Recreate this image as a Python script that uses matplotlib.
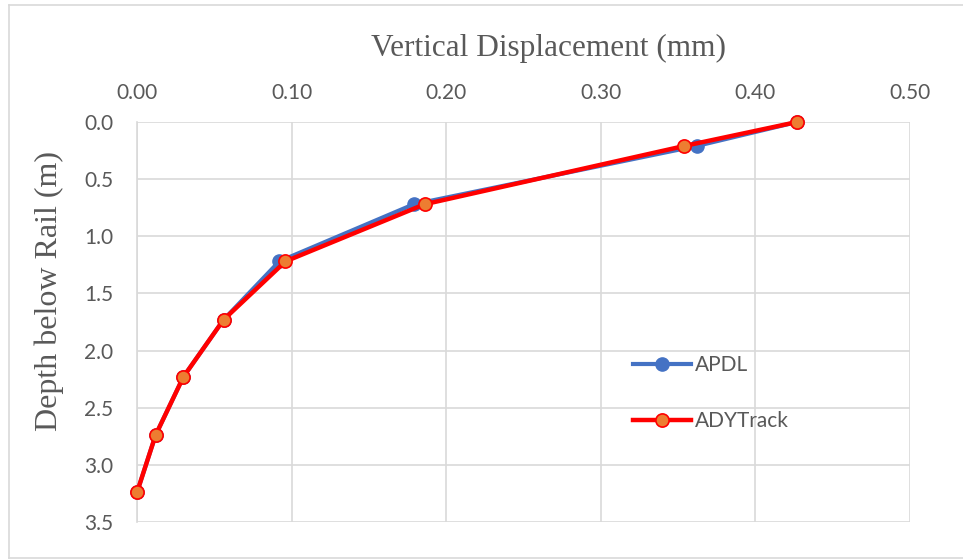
import matplotlib
matplotlib.use('Agg')
from matplotlib import pyplot as plt
from matplotlib.lines import Line2D

# depth below rail (m) and vertical displacement (mm)
depth = [0.0, 0.21, 0.72, 1.22, 1.73, 2.23, 2.74, 3.24]
apdl = [0.427, 0.362, 0.179, 0.092, 0.056, 0.030, 0.012, 0.0]
adytrack = [0.427, 0.354, 0.186, 0.096, 0.056, 0.030, 0.012, 0.0]

x_ticks = [0.0, 0.1, 0.2, 0.3, 0.4, 0.5]
y_ticks = [0.0, 0.5, 1.0, 1.5, 2.0, 2.5, 3.0, 3.5]

tick_color = '#595959'
grid_color = '#d9d9d9'

fig = plt.figure(figsize=(9.63, 5.59), dpi=100)
ax = fig.add_axes([0.1423, 0.0662, 0.8027, 0.7156])

ax.plot(apdl, depth, color='#4472c4', lw=3, marker='o', ms=9.5,
        mfc='#4472c4', mec='#4472c4', label='APDL', zorder=3, clip_on=False)
ax.plot(adytrack, depth, color='#ff0000', lw=3.2, marker='o', ms=9.5,
        mfc='#ed7d31', mec='#ff0000', mew=1.2, label='ADYTrack', zorder=4,
        clip_on=False)

ax.set_xlim(0, 0.5)
ax.set_ylim(3.5, 0)
ax.xaxis.tick_top()
ax.xaxis.set_label_position('top')
ax.set_xticks(x_ticks)
ax.set_yticks(y_ticks)
ax.set_xticklabels(['%.2f' % v for v in x_ticks])
ax.set_yticklabels(['%.1f' % v for v in y_ticks])
ax.tick_params(length=0, labelsize=15, labelcolor=tick_color)
ax.tick_params(axis='x', pad=14)
ax.tick_params(axis='y', pad=17)
for lab in ax.get_xticklabels() + ax.get_yticklabels():
    lab.set_family('Lato')

ax.grid(True, color=grid_color, lw=1.2)
ax.set_axisbelow(True)
for s in ax.spines.values():
    s.set_visible(False)
ax.spines['left'].set_visible(True)
ax.spines['left'].set_color(grid_color)
ax.spines['left'].set_linewidth(1.2)

ax.set_xlabel('Vertical Displacement (mm)', family='Liberation Serif',
              fontsize=22.5, color=tick_color)
ax.xaxis.set_label_coords(0.532, 1.165)
ax.set_ylabel('Depth below Rail (m)', family='Liberation Serif',
              fontsize=23, color=tick_color)
ax.yaxis.set_label_coords(-0.094, 0.578)

ax.legend(loc='center left', bbox_to_anchor=(0.617, 0.322), frameon=False,
          handlelength=2.8, labelspacing=1.7, handletextpad=0.2,
          labelcolor=tick_color, prop={'family': 'Lato', 'size': 15})

# chart border
for xs, ys in [([0.0093, 1.0], [0.991, 0.991]),
               ([0.0093, 0.0093], [0.991, 0.002]),
               ([0.0093, 1.0], [0.002, 0.002])]:
    fig.lines.append(Line2D(xs, ys, transform=fig.transFigure,
                            color=grid_color, lw=1.2))

plt.savefig('out.png', dpi=100)
